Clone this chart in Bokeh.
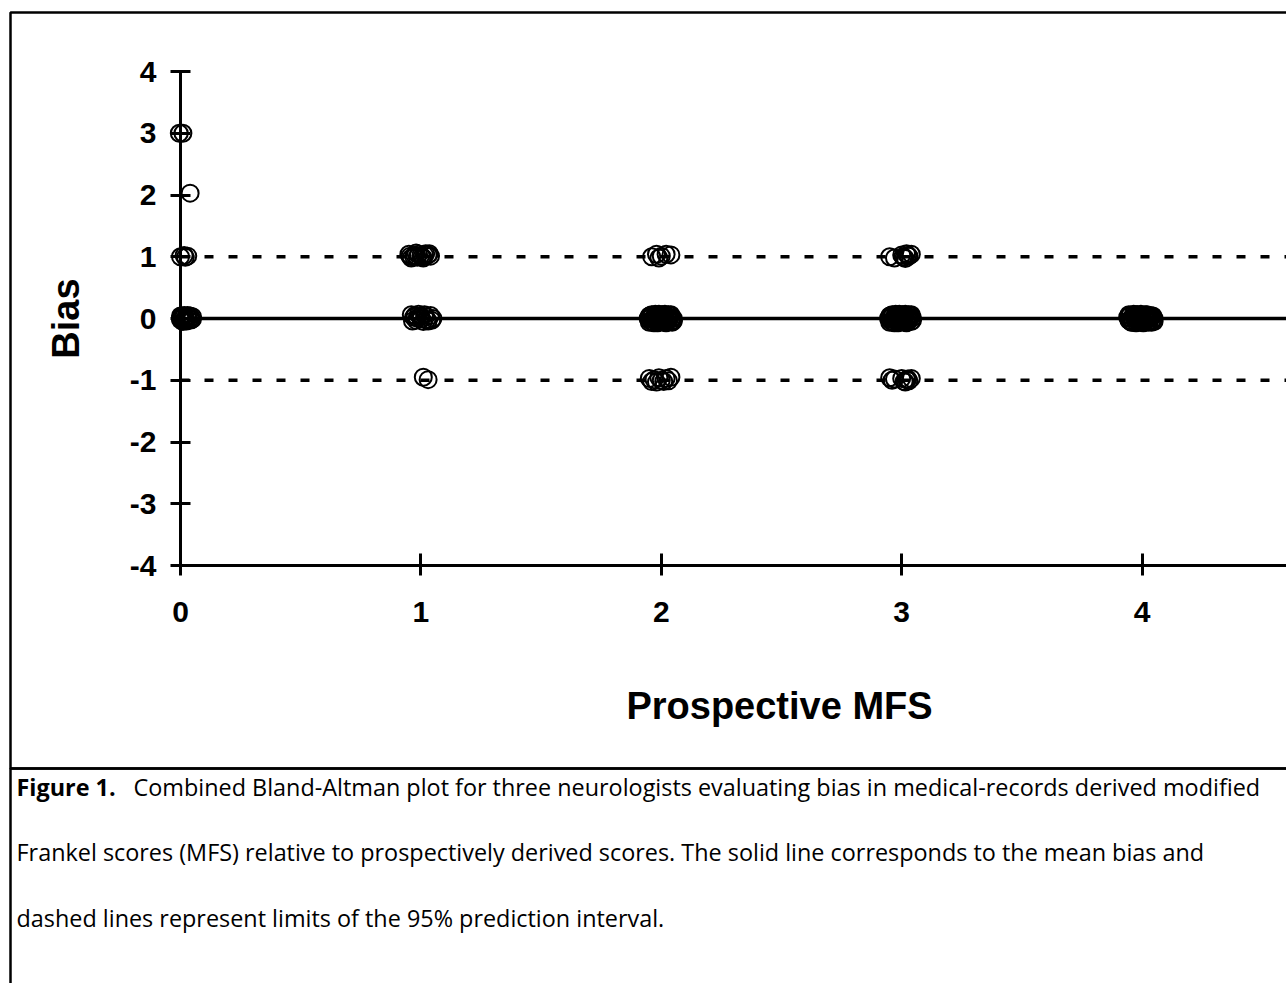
from bokeh.plotting import figure
from bokeh.models import Range1d, FixedTicker, Label, BoxAnnotation, PrintfTickFormatter
from bokeh.embed import file_html
from bokeh.resources import INLINE

# ---- data ----
mfs_ticks = [0, 1, 2, 3, 4, 5]
bias_ticks = [-4, -3, -2, -1, 0, 1, 2, 3, 4]
mean_bias = 0.0
upper_limit = 1.0
lower_limit = -1.0

# MFS = 0
mfs_a = [-0.005, 0.01, 0.04, 0.0, 0.015, 0.03, 0.02,
         0.0, 0.01, 0.02, 0.03, 0.04, 0.05, 0.015, 0.035, 0.0,
         0.005, 0.025, 0.045, 0.01, 0.03, 0.02, 0.04, 0.0, 0.05, 0.015]
bias_a = [3.0, 3.0, 2.03, 1.0, 1.02, 1.01, 0.99,
          0.0, 0.03, -0.02, 0.02, 0.0, 0.03, 0.05, -0.03, -0.02,
          0.04, -0.04, -0.02, -0.05, 0.05, 0.01, 0.04, 0.04, -0.01, -0.03]
# MFS = 1
mfs_b = [0.95, 0.97, 0.98, 1.0, 1.01, 1.02, 1.04, 0.96, 0.99, 1.03, 0.975, 1.005,
         0.955, 0.985, 1.015, 1.035,
         0.96, 0.97, 0.98, 1.0, 1.0, 1.02, 1.03, 1.05, 0.99, 1.01, 1.04, 0.985, 1.025,
         0.965, 0.995, 1.015, 1.045, 0.975,
         1.01, 1.03]
bias_b = [1.04, 1.0, 1.06, 1.02, 0.98, 1.05, 1.01, 0.98, 1.04, 1.03, 1.02, 1.0,
          1.01, 0.99, 1.03, 1.05,
          0.06, 0.02, -0.03, 0.04, -0.01, 0.03, -0.04, 0.0, 0.07, -0.05, 0.05, 0.01, -0.02,
          -0.04, 0.03, 0.06, -0.03, 0.05,
          -0.95, -0.99]
# MFS = 2
mfs_c = [1.96, 1.98, 1.99, 2.02, 2.04, 2.0,
         1.945, 1.95, 1.955, 1.96, 1.965, 1.97, 1.975, 1.98, 1.985, 1.99, 1.995,
         2.0, 2.005, 2.01, 2.015, 2.02, 2.025, 2.03, 2.035, 2.04, 2.045, 2.05,
         1.95, 1.96, 1.97, 1.98, 1.99, 2.0, 2.01, 2.02, 2.03, 2.04, 2.05,
         1.955, 1.965, 1.975, 1.985, 1.995, 2.005, 2.015, 2.025, 2.035, 2.045, 1.96,
         1.95, 1.97, 1.99, 2.01, 2.03, 2.05,
         1.95, 1.96, 1.97, 1.98, 1.99, 2.0, 2.01, 2.02, 2.03, 2.04]
bias_c = [1.0, 1.04, 0.98, 1.04, 1.03, 1.01,
          0.0, 0.04, -0.04, 0.06, -0.06, 0.02, -0.02, 0.05, -0.05, 0.03, -0.03,
          0.0, 0.06, -0.06, 0.04, -0.04, 0.02, -0.02, 0.05, -0.05, 0.01, 0.0,
          -0.06, 0.03, -0.07, 0.01, 0.07, -0.04, 0.05, -0.07, 0.02, 0.06, -0.03,
          0.05, -0.01, 0.07, -0.07, 0.04, -0.02, 0.07, -0.05, 0.0, -0.06, 0.04,
          0.02, -0.03, -0.05, 0.03, 0.06, -0.04,
          -0.97, -1.02, -0.99, -1.03, -0.96, -1.0, -1.02, -0.97, -1.01, -0.95]
# MFS = 3
mfs_d = [2.95, 2.97, 3.0, 3.01, 3.02, 3.03, 3.04, 3.015, 3.025, 3.005,
         2.945, 2.95, 2.955, 2.96, 2.965, 2.97, 2.975, 2.98, 2.985, 2.99, 2.995,
         3.0, 3.005, 3.01, 3.015, 3.02, 3.025, 3.03, 3.035, 3.04, 3.045,
         2.95, 2.96, 2.97, 2.98, 2.99, 3.0, 3.01, 3.02, 3.03, 3.04, 3.045,
         2.955, 2.965, 2.975, 2.985, 2.995, 3.005, 3.015, 3.025, 3.035,
         2.95, 2.97, 2.99, 3.01, 3.03,
         2.95, 2.96, 2.97, 3.0, 3.01, 3.02, 3.03, 3.04, 3.015, 3.025]
bias_d = [1.0, 0.98, 1.03, 0.99, 1.05, 1.01, 1.04, 0.97, 1.02, 1.0,
          0.0, 0.04, -0.04, 0.06, -0.06, 0.02, -0.02, 0.05, -0.05, 0.03, -0.03,
          0.0, 0.06, -0.06, 0.04, -0.04, 0.02, -0.02, 0.05, -0.05, 0.01,
          -0.06, 0.03, -0.07, 0.01, 0.07, -0.04, 0.05, -0.07, 0.02, 0.06, -0.03,
          0.05, -0.01, 0.07, -0.07, 0.04, -0.02, 0.07, -0.05, 0.0,
          0.02, -0.03, -0.05, 0.03, 0.06,
          -0.96, -1.0, -0.98, -0.97, -1.02, -0.99, -1.01, -0.97, -1.03, -0.98]
# MFS = 4
mfs_e = [3.94, 3.945, 3.95, 3.955, 3.96, 3.965, 3.97, 3.975, 3.98, 3.985,
         3.99, 3.995, 4.0, 4.005, 4.01, 4.015, 4.02, 4.025, 4.03, 4.035,
         4.04, 4.045, 4.05, 3.96, 3.98, 4.0, 4.02, 4.04,
         3.945, 3.955, 3.965, 3.975, 3.985, 3.995, 4.005, 4.015, 4.025, 4.035, 4.045,
         3.95, 3.97, 3.99, 4.01, 4.03, 4.05]
bias_e = [0.02, -0.03, 0.05, 0.0, -0.05, 0.03, -0.01, 0.06, -0.04, 0.01,
          0.04, -0.06, 0.02, -0.02, 0.05, -0.03, 0.0, 0.04, -0.05, 0.01,
          0.03, -0.02, 0.0, -0.06, 0.06, -0.05, 0.06, -0.06,
          0.06, -0.06, 0.07, -0.07, 0.02, 0.07, -0.07, 0.06, -0.06, 0.05, 0.04,
          -0.04, 0.0, -0.03, 0.03, 0.02, -0.05]

mfs = mfs_a + mfs_b + mfs_c + mfs_d + mfs_e
bias = bias_a + bias_b + bias_c + bias_d + bias_e

x_title = "Prospective MFS"
y_title = "Bias"
caption_bold = "Figure 1."
caption_lines = [
    "Combined Bland-Altman plot for three neurologists evaluating bias in medical-records derived modified",
    "Frankel scores (MFS) relative to prospectively derived scores. The solid line corresponds to the mean bias and",
    "dashed lines represent limits of the 95% prediction interval.",
]

# ---- figure: the frame fills the whole canvas, axes sit at fixed data locations ----
W, H = 1286, 983
PX_X = 240.4    # pixels per MFS unit
PX_Y = 61.75    # pixels per bias unit
X0, Y0 = 180, 318   # pixel position of (0, 0)
p = figure(width=W, height=H, output_backend="svg", toolbar_location=None,
           x_range=Range1d(-X0 / PX_X, (W - X0) / PX_X),
           y_range=Range1d(-(H - Y0) / PX_Y, Y0 / PX_Y))
p.min_border = 0
p.min_border_left = 0
p.min_border_right = 0
p.min_border_top = 0
p.min_border_bottom = 0
p.outline_line_color = None
p.grid.visible = False
p.background_fill_color = "white"
p.border_fill_color = "white"

AX_FONT = "Liberation Sans"

ya = p.yaxis[0]
ya.fixed_location = 0
ya.ticker = FixedTicker(ticks=bias_ticks)
ya.bounds = (-4, 4)
xa = p.xaxis[0]
xa.fixed_location = -4
xa.ticker = FixedTicker(ticks=mfs_ticks)
xa.bounds = (0, 5)
for ax in (xa, ya):
    ax.formatter = PrintfTickFormatter(format="%d")
    ax.axis_line_width = 3
    ax.axis_line_color = "black"
    ax.major_tick_line_width = 3
    ax.major_tick_line_color = "black"
    ax.minor_tick_line_color = None
    ax.major_label_text_font = AX_FONT
    ax.major_label_text_font_style = "bold"
    ax.major_label_text_font_size = "30px"
    ax.major_label_text_color = "black"
    ax.axis_label_text_font = AX_FONT
    ax.axis_label_text_font_style = "bold"
    ax.axis_label_text_color = "black"
ya.major_tick_in = 10
ya.major_tick_out = 10
ya.major_label_standoff = 14
ya.axis_label = y_title
ya.axis_label_text_font_size = "38px"
ya.axis_label_standoff = 40
xa.major_tick_in = 12
xa.major_tick_out = 10
xa.major_label_standoff = 26

# reference lines
p.segment(x0=[0], y0=[mean_bias], x1=[5], y1=[mean_bias], line_color="black", line_width=3.5)
p.segment(x0=[0, 0], y0=[upper_limit, lower_limit], x1=[5, 5], y1=[upper_limit, lower_limit],
          line_color="black", line_width=3.5, line_dash="9 15")

# points
p.scatter(mfs, bias, marker="circle", size=17, fill_color=None, line_color="black", line_width=2.0)

# x-axis title, centred under the drawn part of the axis
p.add_layout(Label(x=(779 - X0) / PX_X, y=(Y0 - 705) / PX_Y, text=x_title, text_align="center",
                   text_baseline="alphabetic", text_font=AX_FONT, text_font_style="bold",
                   text_font_size="38px", text_color="black"))

# frame of the figure panel and of the caption
box_left = (10 - X0) / PX_X
p.add_layout(BoxAnnotation(left=box_left, right=7, top=(Y0 - 12) / PX_Y, bottom=(Y0 - 768) / PX_Y,
                           fill_color=None, line_color="black", line_alpha=1.0, line_width=2.5))
p.add_layout(BoxAnnotation(left=box_left, right=7, top=(Y0 - 768) / PX_Y, bottom=-20,
                           fill_color=None, line_color="black", line_alpha=1.0, line_width=2.5))

# caption
CAP_FONT = "Open Sans"
CAP_SIZE = "23.4px"
cap_px = [786, 851, 917]
cap_y = [(Y0 - c) / PX_Y for c in cap_px]
cap_left = (16 - X0) / PX_X
cap_cont = (133 - X0) / PX_X
p.add_layout(Label(x=cap_left, y=cap_y[0], text=caption_bold, text_align="left",
                   text_baseline="middle", text_font=CAP_FONT, text_font_style="bold",
                   text_font_size=CAP_SIZE, text_color="black"))
p.add_layout(Label(x=cap_cont, y=cap_y[0], text=caption_lines[0], text_align="left",
                   text_baseline="middle", text_font=CAP_FONT,
                   text_font_size=CAP_SIZE, text_color="black"))
for yy, t in zip(cap_y[1:], caption_lines[1:]):
    p.add_layout(Label(x=cap_left, y=yy, text=t, text_align="left",
                       text_baseline="middle", text_font=CAP_FONT,
                       text_font_size=CAP_SIZE, text_color="black"))

open("out.html", "w").write(file_html(p, INLINE))
